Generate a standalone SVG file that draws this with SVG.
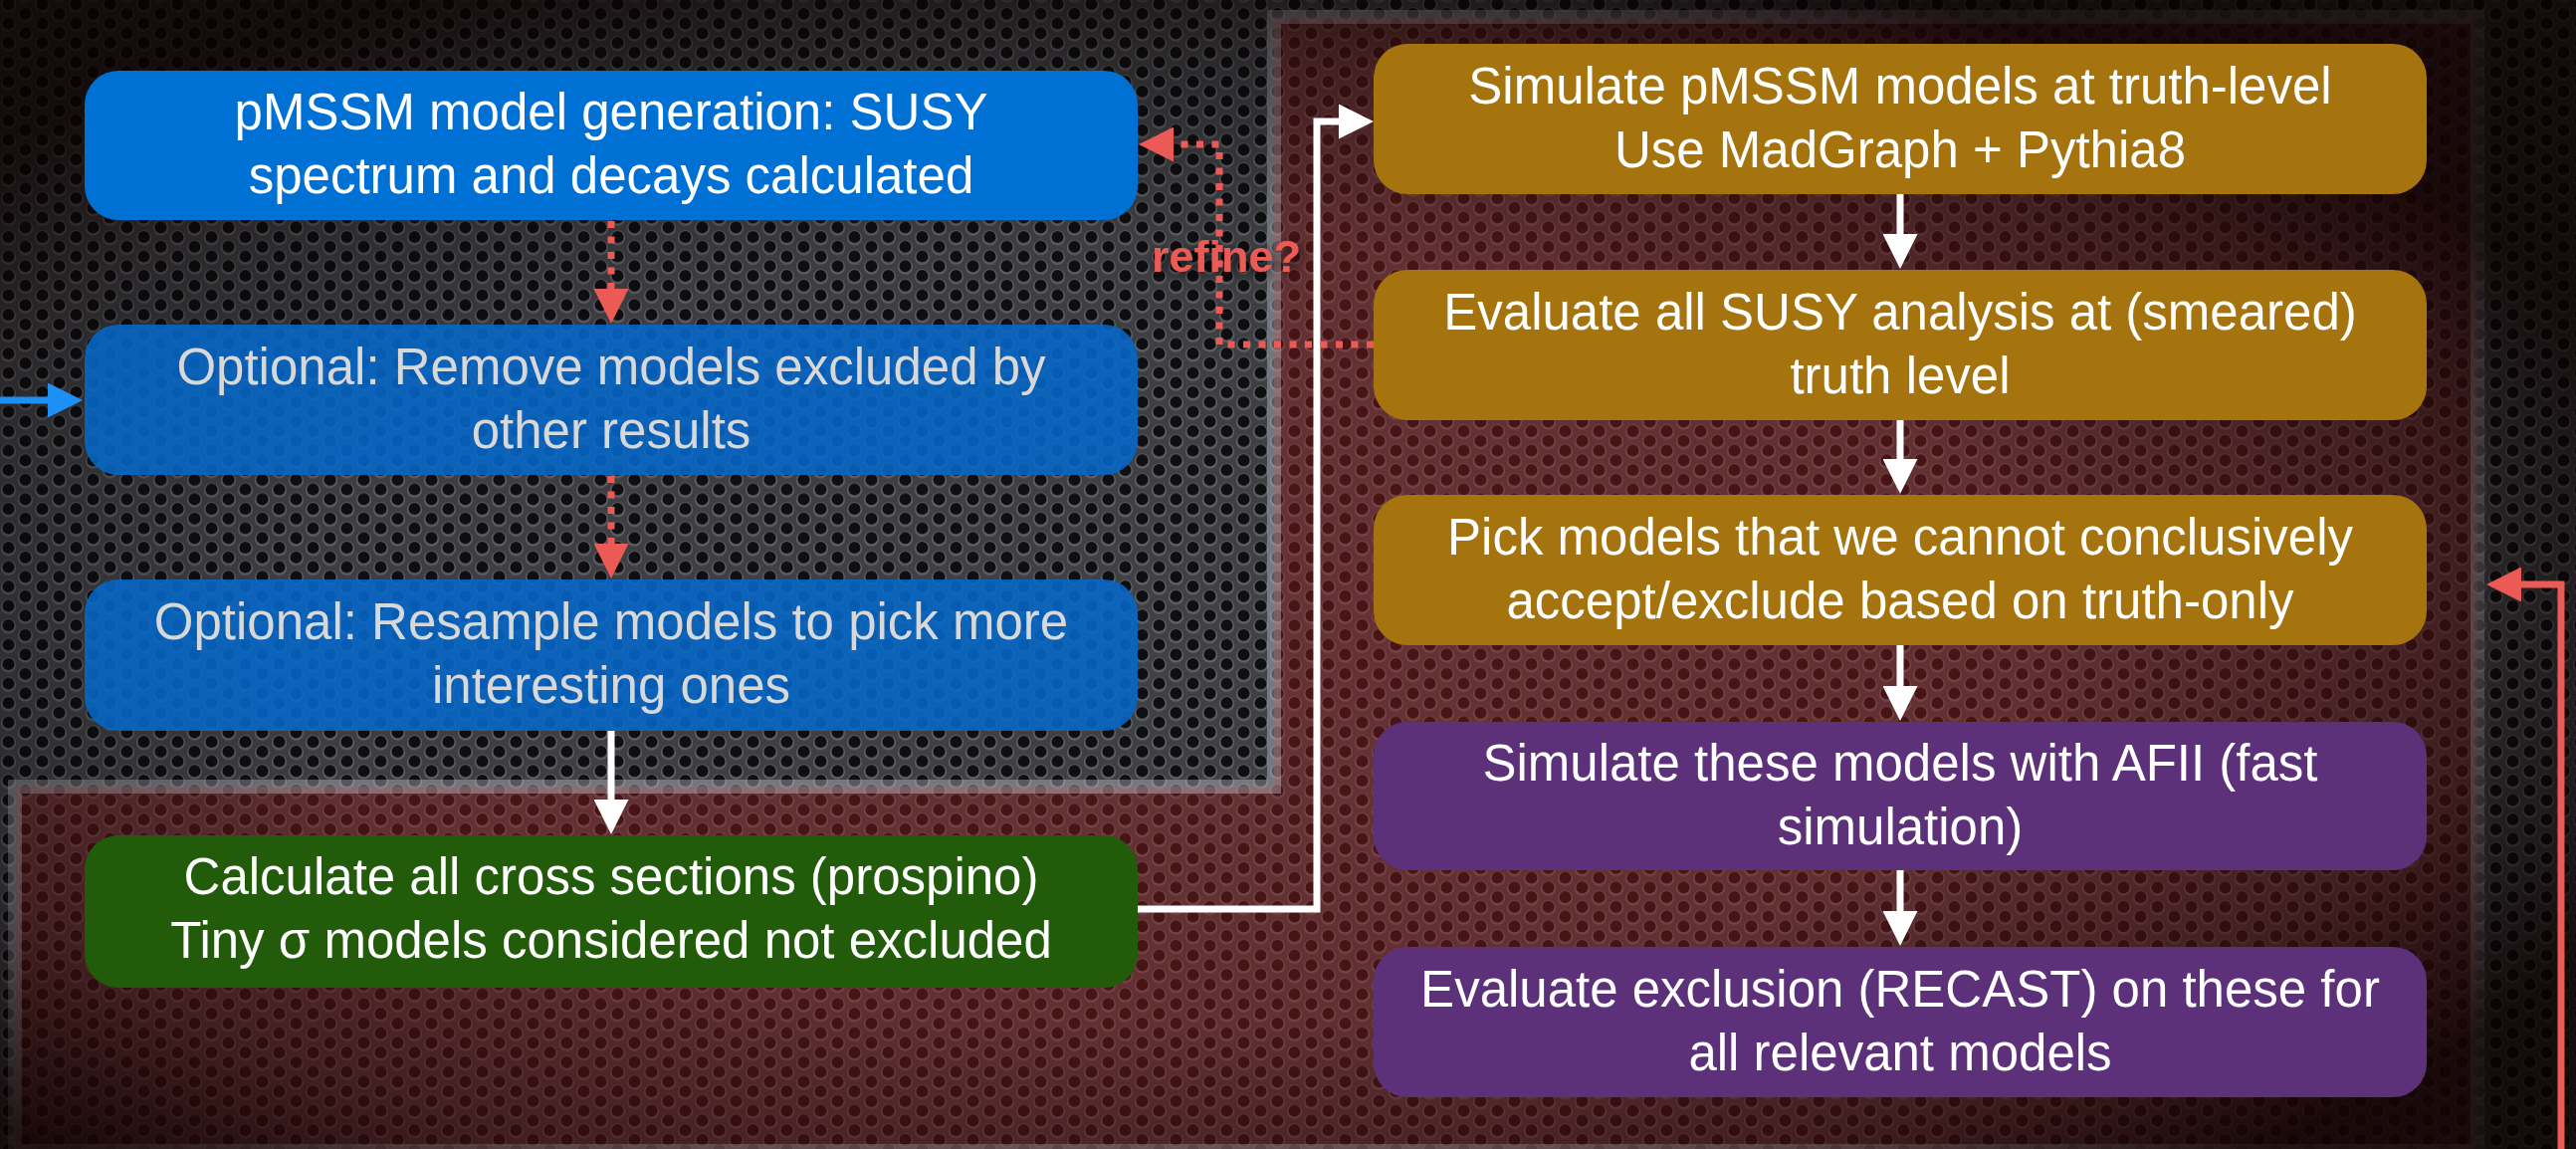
<svg xmlns="http://www.w3.org/2000/svg" width="2588" height="1154" viewBox="0 0 2588 1154">
<defs>
  <pattern id="holes" width="34" height="19.5" patternUnits="userSpaceOnUse">
    <rect width="34" height="19.5" fill="#404145"/>
    <g fill="#606268">
      <circle cx="8.5" cy="4.875" r="7.6"/>
      <circle cx="8.5" cy="24.375" r="7.6"/>
      <circle cx="25.5" cy="14.625" r="7.6"/>
      <circle cx="25.5" cy="-4.875" r="7.6"/>
    </g>
    <g fill="#0f0f11">
      <circle cx="8.5" cy="4.1" r="6"/>
      <circle cx="8.5" cy="23.6" r="6"/>
      <circle cx="25.5" cy="13.85" r="6"/>
      <circle cx="25.5" cy="-5.65" r="6"/>
    </g>
  </pattern>
  <radialGradient id="vig" cx="0.45" cy="0.55" r="0.62">
    <stop offset="0" stop-color="#000" stop-opacity="0"/>
    <stop offset="0.55" stop-color="#000" stop-opacity="0.05"/>
    <stop offset="0.82" stop-color="#080000" stop-opacity="0.4"/>
    <stop offset="1" stop-color="#0a0000" stop-opacity="0.82"/>
  </radialGradient>
  <marker id="ahRed" viewBox="0 0 35 35" refX="1" refY="17.5" markerWidth="35" markerHeight="35" markerUnits="userSpaceOnUse" orient="auto">
    <path d="M0,0 L35,17.5 L0,35 Z" fill="#ec5a56"/>
  </marker>
  <marker id="ahWhite" viewBox="0 0 35 35" refX="1" refY="17.5" markerWidth="35" markerHeight="35" markerUnits="userSpaceOnUse" orient="auto">
    <path d="M0,0 L35,17.5 L0,35 Z" fill="#ffffff"/>
  </marker>
  <marker id="ahBlue" viewBox="0 0 35 35" refX="1" refY="17.5" markerWidth="35" markerHeight="35" markerUnits="userSpaceOnUse" orient="auto">
    <path d="M0,0 L35,17.5 L0,35 Z" fill="#1e8ff5"/>
  </marker>
  <filter id="shadow" x="-20%" y="-40%" width="140%" height="180%">
    <feGaussianBlur in="SourceAlpha" stdDeviation="6"/>
    <feOffset dx="2" dy="3" result="b"/>
    <feFlood flood-color="#000" flood-opacity="0.8"/>
    <feComposite in2="b" operator="in"/>
    <feMerge><feMergeNode/><feMergeNode in="SourceGraphic"/></feMerge>
  </filter>
  <style>
    .node rect { stroke: none; }
    .t { font-family: "Liberation Sans", Arial, sans-serif; font-size: 51px; text-anchor: middle; fill: #ffffff; }
    .tg { fill: #d8d8d8; }
    .blue { fill: #0071d4; }
    .blue2 { fill: #0568c8; fill-opacity: 0.88; }
    .green { fill: #225c0b; }
    .gold { fill: #a5740f; }
    .purple { fill: #5c317a; }
    .red { fill: none; stroke: #ec5a56; stroke-width: 7; }
    .dash { stroke-dasharray: 7 8.5; }
    .white { fill: none; stroke: #ffffff; stroke-width: 7; }
    .bl { fill: none; stroke: #1e8ff5; stroke-width: 7; }
    .lbl { font-family: "Liberation Sans", Arial, sans-serif; font-size: 45px; font-weight: bold; fill: #ec5a56; }
  </style>
</defs>

<rect width="2588" height="1154" fill="url(#holes)"/>
<polygon id="region" points="1280,17 2489,17 2489,1156 15,1156 15,790 1280,790" fill="#9a2020" fill-opacity="0.42" stroke="#d2d7e1" stroke-opacity="0.38" stroke-width="14"/>
<rect width="2588" height="1154" fill="url(#vig)"/>

<g id="n1" class="node">
  <rect class="blue" x="85" y="71" width="1058" height="150" rx="34"/>
  <text class="t" x="614" y="130">pMSSM model generation: SUSY</text>
  <text class="t" x="614" y="194">spectrum and decays calculated</text>
</g>
<g id="n2" class="node">
  <rect class="blue2" x="85" y="326" width="1058" height="151" rx="34"/>
  <text class="t tg" x="614" y="386">Optional: Remove models excluded by</text>
  <text class="t tg" x="614" y="450">other results</text>
</g>
<g id="n3" class="node">
  <rect class="blue2" x="85" y="582" width="1058" height="152" rx="34"/>
  <text class="t tg" x="614" y="642">Optional: Resample models to pick more</text>
  <text class="t tg" x="614" y="706">interesting ones</text>
</g>
<g id="n4" class="node">
  <rect class="green" x="85" y="839" width="1058" height="153" rx="34"/>
  <text class="t" x="614" y="898">Calculate all cross sections (prospino)</text>
  <text class="t" x="614" y="962">Tiny σ models considered not excluded</text>
</g>
<g id="n5" class="node">
  <rect class="gold" x="1380" y="44" width="1058" height="151" rx="34"/>
  <text class="t" x="1909" y="104">Simulate pMSSM models at truth-level</text>
  <text class="t" x="1909" y="168">Use MadGraph + Pythia8</text>
</g>
<g id="n6" class="node">
  <rect class="gold" x="1380" y="271" width="1058" height="151" rx="34"/>
  <text class="t" x="1909" y="331">Evaluate all SUSY analysis at (smeared)</text>
  <text class="t" x="1909" y="395">truth level</text>
</g>
<g id="n7" class="node">
  <rect class="gold" x="1380" y="497" width="1058" height="151" rx="34"/>
  <text class="t" x="1909" y="557">Pick models that we cannot conclusively</text>
  <text class="t" x="1909" y="621">accept/exclude based on truth-only</text>
</g>
<g id="n8" class="node">
  <rect class="purple" x="1380" y="725" width="1058" height="149" rx="34"/>
  <text class="t" x="1909" y="784">Simulate these models with AFII (fast</text>
  <text class="t" x="1909" y="848">simulation)</text>
</g>
<g id="n9" class="node">
  <rect class="purple" x="1380" y="951" width="1058" height="151" rx="34"/>
  <text class="t" x="1909" y="1011">Evaluate exclusion (RECAST) on these for</text>
  <text class="t" x="1909" y="1075">all relevant models</text>
</g>

<text id="refine-label" class="lbl" x="1157" y="273" filter="url(#shadow)">refine?</text>

<g id="connectors">
  <path class="red dash" d="M614,222 L614,291" marker-end="url(#ahRed)"/>
  <path class="red dash" d="M614,478 L614,547" marker-end="url(#ahRed)"/>
  <path class="white" d="M614,734 L614,804" marker-end="url(#ahWhite)"/>
  <path class="white" d="M1143,913 L1323,913 L1323,122 L1346,122" marker-end="url(#ahWhite)"/>
  <path class="white" d="M1909,195 L1909,236" marker-end="url(#ahWhite)"/>
  <path class="white" d="M1909,422 L1909,462" marker-end="url(#ahWhite)"/>
  <path class="white" d="M1909,648 L1909,690" marker-end="url(#ahWhite)"/>
  <path class="white" d="M1909,874 L1909,916" marker-end="url(#ahWhite)"/>
  <path class="red dash" d="M1380,346 L1225,346 L1225,145 L1178,145" marker-end="url(#ahRed)"/>
  <path class="bl" d="M0,402 L49,402" marker-end="url(#ahBlue)"/>
  <path class="red" d="M2573,1160 L2573,587 L2532,587" marker-end="url(#ahRed)"/>
</g>
</svg>
